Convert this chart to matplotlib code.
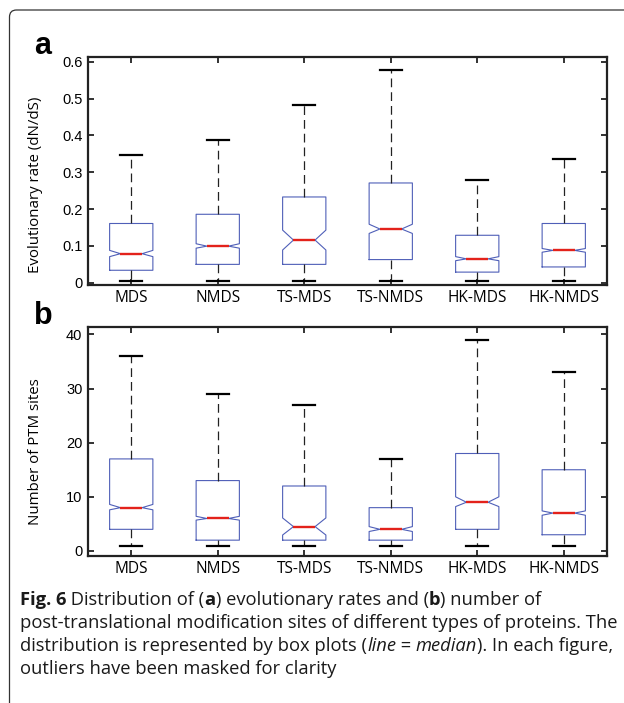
import matplotlib
matplotlib.use('Agg')
from matplotlib import pyplot as plt
from matplotlib.patches import FancyBboxPatch
from matplotlib.transforms import IdentityTransform

# categories and box statistics (outliers masked)
cats = ['MDS', 'NMDS', 'TS-MDS', 'TS-NMDS', 'HK-MDS', 'HK-NMDS']

# (a) evolutionary rate dN/dS
rate_whislo = [0.005, 0.005, 0.005, 0.005, 0.005, 0.005]
rate_q1 = [0.034, 0.050, 0.050, 0.063, 0.029, 0.043]
rate_med = [0.079, 0.0995, 0.116, 0.146, 0.065, 0.088]
rate_q3 = [0.161, 0.186, 0.233, 0.271, 0.129, 0.161]
rate_whishi = [0.348, 0.389, 0.484, 0.577, 0.279, 0.336]
rate_cilo = [0.071, 0.094, 0.089, 0.134, 0.060, 0.083]
rate_cihi = [0.088, 0.106, 0.143, 0.159, 0.071, 0.093]

# (b) number of PTM sites
ptm_whislo = [1, 1, 1, 1, 1, 1]
ptm_q1 = [4, 2, 2, 2, 4, 3]
ptm_med = [8, 6, 4.5, 4, 9, 7]
ptm_q3 = [17, 13, 12, 8, 18, 15]
ptm_whishi = [36, 29, 27, 17, 39, 33]
ptm_cilo = [7.6, 5.7, 2.95, 3.6, 8.2, 6.6]
ptm_cihi = [8.6, 6.4, 6.1, 4.5, 10.0, 7.4]

W, H = 624, 703
fig = plt.figure(figsize=(W/100, H/100), dpi=100)

tick_font = 'Liberation Sans'
label_font = 'Open Sans'

def make_stats(lo, q1, med, q3, hi, cilo, cihi):
    stats = []
    for i in range(len(cats)):
        stats.append(dict(whislo=lo[i], q1=q1[i], med=med[i], q3=q3[i], whishi=hi[i],
                          cilo=cilo[i], cihi=cihi[i], fliers=[], label=cats[i]))
    return stats

def draw_panel(rect, stats, ylim, yticks, yticklabels, ylabel, ylab_y, letter):
    ax = fig.add_axes(rect)
    ax.bxp(stats, positions=range(1, len(cats)+1), widths=0.5, shownotches=True,
           showfliers=False,
           boxprops=dict(color='#4f5fb8', linewidth=0.8),
           medianprops=dict(color='#e3221b', linewidth=1.7),
           whiskerprops=dict(color='#222222', linewidth=0.9, linestyle=(0, (7, 4))),
           capprops=dict(color='black', linewidth=1.6))
    ax.set_xlim(0.5, 6.5)
    ax.set_ylim(*ylim)
    ax.set_yticks(yticks)
    ax.set_yticklabels(yticklabels, fontfamily=tick_font, fontsize=10.5)
    ax.set_xticks(range(1, len(cats)+1))
    ax.set_xticklabels(cats, fontfamily=label_font, fontsize=11.2)
    ax.tick_params(direction='in', top=True, right=True, length=4, width=1.3, color='#222222')
    ax.tick_params(axis='x', pad=3.5)
    ax.tick_params(axis='y', pad=4)
    for s in ax.spines.values():
        s.set_linewidth(1.6)
        s.set_color('#222222')
    ax.set_ylabel(ylabel, fontfamily=label_font, fontsize=10.8)
    ax.yaxis.set_label_coords(-0.086, ylab_y)
    # panel letter above-left of the axes
    fig.text(rect[0] - 54/W, rect[1] + rect[3] + 3/H, letter, fontfamily=tick_font,
             fontweight='bold', fontsize=22, ha='left', va='baseline')
    return ax

ax_a = draw_panel([88/W, 1 - 285/H, 519/W, 228/H],
                  make_stats(rate_whislo, rate_q1, rate_med, rate_q3, rate_whishi, rate_cilo, rate_cihi),
                  (-0.006, 0.613), [0, 0.1, 0.2, 0.3, 0.4, 0.5, 0.6],
                  ['0', '0.1', '0.2', '0.3', '0.4', '0.5', '0.6'],
                  'Evolutionary rate (dN/dS)', 0.44, 'a')
ax_b = draw_panel([88/W, 1 - 555.7/H, 519/W, 228.4/H],
                  make_stats(ptm_whislo, ptm_q1, ptm_med, ptm_q3, ptm_whishi, ptm_cilo, ptm_cihi),
                  (-0.87, 41.3), [0, 10, 20, 30, 40], ['0', '10', '20', '30', '40'],
                  'Number of PTM sites', 0.456, 'b')

# caption, pieces chained so bold/italic words sit on one baseline
cap_size = 13.2
cap_lines = [
    [('Fig. 6', 'bold', 'normal'), (' Distribution of (', 'normal', 'normal'), ('a', 'bold', 'normal'),
     (') evolutionary rates and (', 'normal', 'normal'), ('b', 'bold', 'normal'), (') number of', 'normal', 'normal')],
    [('post-translational modification sites of different types of proteins. The', 'normal', 'normal')],
    [('distribution is represented by box plots (', 'normal', 'normal'), ('line', 'normal', 'italic'),
     (' = ', 'normal', 'normal'), ('median', 'normal', 'italic'), ('). In each figure,', 'normal', 'normal')],
    [('outliers have been masked for clarity', 'normal', 'normal')],
]
baselines = [605, 628, 651, 674]
for line, yb in zip(cap_lines, baselines):
    prev = None
    for txt, wt, st in line:
        kw = dict(fontfamily=label_font, fontsize=cap_size, fontweight=wt, fontstyle=st,
                  color='#1a1a1a', ha='left', va='bottom')
        if prev is None:
            prev = fig.text(20/W, 1 - yb/H, txt, **dict(kw, va='baseline'))
        else:
            prev = fig.add_artist(plt.Annotation(txt, xy=(1, 0), xycoords=prev, **kw))

# rounded frame around the figure panel (only top-left corner is visible)
frame = FancyBboxPatch((9.5, -60), 700, H - 10 + 60, boxstyle='round,pad=0,rounding_size=7',
                       transform=IdentityTransform(), fill=False, edgecolor='#333333', linewidth=0.9)
fig.add_artist(frame)

fig.savefig('out.png', dpi=100)
